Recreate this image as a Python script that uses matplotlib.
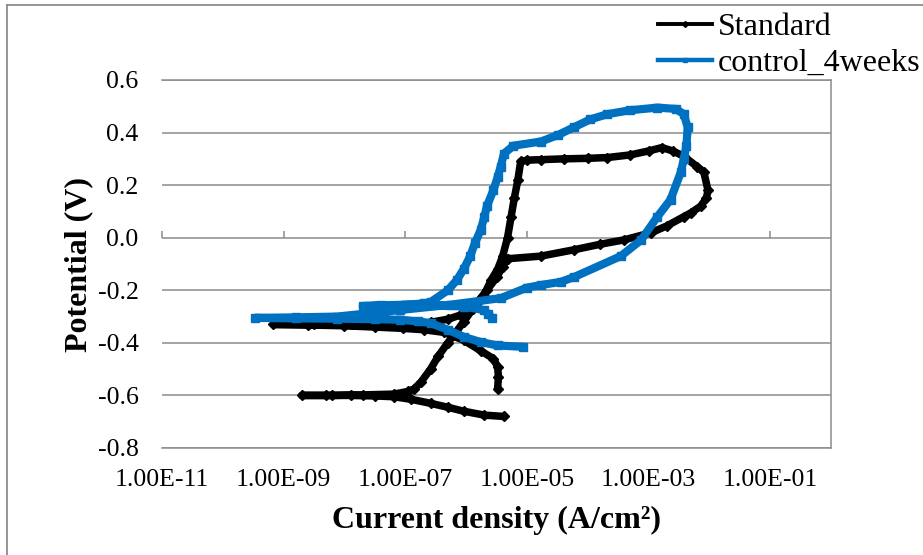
import matplotlib
matplotlib.use("Agg")
import matplotlib.pyplot as plt
from matplotlib.lines import Line2D
from matplotlib.ticker import FixedLocator, FixedFormatter, NullLocator, NullFormatter

plt.rcParams['font.family'] = ['Liberation Serif', 'DejaVu Serif']

# ---------------- data ----------------
std_current = [4.2e-6, 2.0e-6, 9.1e-7, 5.0e-7, 2.6e-7, 1.26e-7, 6.5e-8, 3.2e-8, 1.26e-8, 5.0e-9,
               2.0e-9, 6.3e-9, 2.0e-8, 6.5e-8, 1.1e-7, 1.4e-7, 1.8e-7, 2.6e-7, 3.5e-7, 5.0e-7,
               6.8e-7, 9.1e-7, 1.3e-6, 1.95e-6, 2.6e-6, 3.3e-6, 4.0e-6, 4.8e-6, 5.5e-6, 6.2e-6,
               7.1e-6, 7.9e-6, 1.0e-5, 1.7e-5, 4.0e-5, 1.0e-4, 2.1e-4, 5.0e-4, 1.0e-3, 1.66e-3,
               2.5e-3, 3.8e-3, 6.3e-3, 8.1e-3, 9.5e-3, 8.9e-3, 7.2e-3, 5.0e-3, 3.8e-3, 2.0e-3,
               1.1e-3, 4.0e-4, 1.6e-4, 5.9e-5, 1.7e-5, 4.8e-6, 4.0e-6, 3.2e-6, 2.2e-6, 1.6e-6,
               1.1e-6, 7.9e-7, 5.0e-7, 2.6e-7, 9.3e-8, 3.2e-8, 1.0e-8, 3.2e-9, 6.8e-10, 2.5e-9,
               1.0e-8, 3.2e-8, 9.3e-8, 2.0e-7, 4.3e-7, 9.1e-7, 1.74e-6, 2.8e-6, 3.3e-6, 3.4e-6,
               3.3e-6]
std_potential = [-0.68, -0.675, -0.66, -0.645, -0.63, -0.615, -0.605, -0.602, -0.60, -0.60,
                 -0.60, -0.60, -0.598, -0.595, -0.585, -0.575, -0.55, -0.50, -0.45, -0.40,
                 -0.36, -0.32, -0.27, -0.22, -0.16, -0.12, -0.07, 0.0, 0.08, 0.15,
                 0.22, 0.29, 0.295, 0.297, 0.30, 0.302, 0.305, 0.315, 0.33, 0.343,
                 0.33, 0.31, 0.27, 0.25, 0.18, 0.15, 0.12, 0.095, 0.08, 0.045,
                 0.019, -0.008, -0.025, -0.046, -0.07, -0.08, -0.11, -0.15, -0.20, -0.24,
                 -0.27, -0.295, -0.31, -0.322, -0.335, -0.335, -0.333, -0.33, -0.33, -0.332,
                 -0.335, -0.34, -0.345, -0.35, -0.36, -0.39, -0.43, -0.46, -0.49, -0.53,
                 -0.575]

ctl_current = [2.7e-6, 2.3e-6, 1.95e-6, 9.1e-7, 2.6e-7, 1.0e-7, 5.0e-8, 2.0e-8, 4.0e-8, 1.0e-7,
               2.0e-7, 2.6e-7, 5.0e-7, 7.1e-7, 9.1e-7, 1.17e-6, 1.4e-6, 1.74e-6, 2.0e-6, 2.2e-6,
               2.8e-6, 3.3e-6, 3.7e-6, 4.2e-6, 6.0e-6, 1.7e-5, 3.2e-5, 5.9e-5, 1.1e-4, 2.1e-4,
               5.0e-4, 1.4e-3, 2.8e-3, 3.8e-3, 4.4e-3, 4.2e-3, 3.8e-3, 3.4e-3, 2.3e-3, 1.4e-3,
               7.6e-4, 3.5e-4, 5.9e-5, 3.6e-5, 1.7e-5, 1.0e-5, 3.7e-6, 5.5e-7, 8.3e-8, 7.6e-9,
               1.6e-9, 3.4e-10, 1.6e-9, 7.6e-9, 3.2e-8, 8.3e-8, 1.6e-7, 2.6e-7, 5.0e-7, 9.1e-7,
               1.74e-6, 3.3e-6, 8.5e-6]
ctl_potential = [-0.305, -0.29, -0.275, -0.262, -0.255, -0.256, -0.258, -0.26, -0.257, -0.255,
                 -0.25, -0.245, -0.20, -0.16, -0.12, -0.07, -0.02, 0.03, 0.08, 0.12,
                 0.18, 0.23, 0.27, 0.32, 0.35, 0.366, 0.39, 0.42, 0.45, 0.47,
                 0.485, 0.495, 0.49, 0.47, 0.42, 0.35, 0.30, 0.25, 0.145, 0.08,
                 -0.008, -0.07, -0.15, -0.168, -0.18, -0.19, -0.23, -0.255, -0.275, -0.30,
                 -0.303, -0.305, -0.307, -0.308, -0.31, -0.312, -0.318, -0.325, -0.35, -0.377,
                 -0.397, -0.41, -0.415]

series_names = ["Standard", "control_4weeks"]
x_tick_values = [1e-11, 1e-9, 1e-7, 1e-5, 1e-3, 1e-1]
x_tick_labels = ["1.00E-11", "1.00E-09", "1.00E-07", "1.00E-05", "1.00E-03", "1.00E-01"]
y_tick_values = [-0.8, -0.6, -0.4, -0.2, 0.0, 0.2, 0.4, 0.6]
y_tick_labels = ["-0.8", "-0.6", "-0.4", "-0.2", "0.0", "0.2", "0.4", "0.6"]

# ---------------- figure ----------------
W, H = 923, 555
fig = plt.figure(figsize=(W / 100, H / 100), dpi=100)
ax = fig.add_axes([162 / W, 1 - 448 / H, (831 - 162) / W, (448 - 80) / H])

GRID = '#8c8c8c'
BLACK = '#000000'
BLUE = '#0070C0'

ax.set_xscale('log')
ax.set_xlim(1e-11, 1e0)
ax.set_ylim(-0.8, 0.6)

for yv in y_tick_values:
    ax.axhline(yv, color=GRID, lw=1.1, zorder=0)

ax.plot(std_current, std_potential, color=BLACK, lw=5.4, marker='D', ms=4.8,
        solid_joinstyle='round', solid_capstyle='round', zorder=3)
ax.plot(ctl_current, ctl_potential, color=BLUE, lw=5.9, marker='s', ms=5.2,
        solid_joinstyle='round', solid_capstyle='round', zorder=4)

# spines: plot area border (top, right, bottom), no left
for s in ['top', 'right', 'bottom']:
    ax.spines[s].set_color(GRID)
    ax.spines[s].set_linewidth(1.1)
ax.spines['left'].set_visible(False)

ax.xaxis.set_major_locator(FixedLocator(x_tick_values))
ax.xaxis.set_major_formatter(FixedFormatter(x_tick_labels))
ax.xaxis.set_minor_locator(NullLocator())
ax.yaxis.set_major_locator(FixedLocator(y_tick_values))
ax.yaxis.set_major_formatter(FixedFormatter(y_tick_labels))
ax.tick_params(axis='x', length=0, pad=15, labelsize=18.5)
ax.tick_params(axis='y', length=0, pad=17, labelsize=18.5)

# horizontal axis line crossing at 0 with tick marks
sec = ax.secondary_xaxis(location=(0 - (-0.8)) / 1.4)
sec.set_xscale('log')
sec.xaxis.set_major_locator(FixedLocator(x_tick_values))
sec.xaxis.set_minor_locator(NullLocator())
sec.xaxis.set_major_formatter(NullFormatter())
sec.xaxis.set_minor_formatter(NullFormatter())
sec.tick_params(axis='x', which='both', direction='out', length=5, width=1.1, color=GRID,
                labelbottom=False, labeltop=False)
sec.spines['bottom'].set_color(GRID)
sec.spines['bottom'].set_linewidth(1.1)
for s in ['top', 'left', 'right']:
    sec.spines[s].set_visible(False)

ax.set_xlabel("Current density (A/cm²)", fontsize=23, fontweight='bold', labelpad=11)
ax.set_ylabel("Potential (V)", fontsize=23, fontweight='bold', labelpad=3)

handles = [Line2D([], [], color=BLACK, lw=2.8, marker='D', ms=3),
           Line2D([], [], color=BLUE, lw=3.2, marker='s', ms=3.5)]
fig.legend(handles, series_names, loc='upper left', bbox_to_anchor=(658 / W, 1 - 13 / H),
           frameon=False, fontsize=23, handlelength=1.7, handletextpad=0.16,
           borderpad=0, borderaxespad=0, labelspacing=0.2)

# chart area border (left and top visible)
fig.add_artist(Line2D([7 / W, 7 / W], [0, 1 - 5 / H], color=GRID, lw=1.3, transform=fig.transFigure))
fig.add_artist(Line2D([7 / W, 1], [1 - 5 / H, 1 - 5 / H], color=GRID, lw=1.3, transform=fig.transFigure))

fig.savefig("out.png", dpi=100)
